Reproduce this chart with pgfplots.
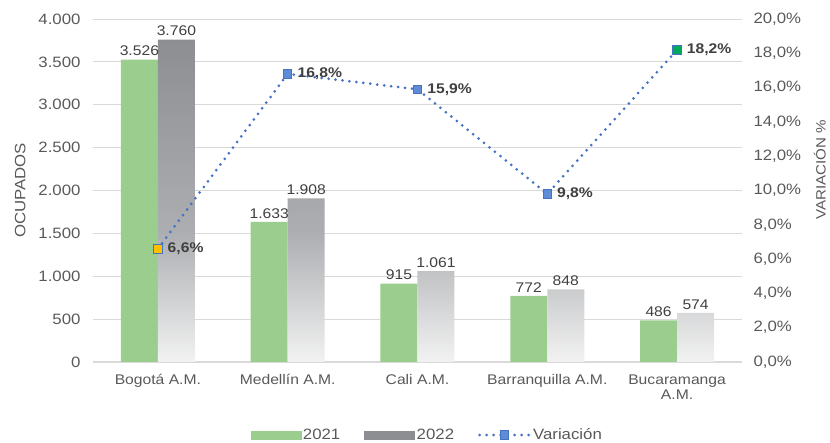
\documentclass[border=0pt]{standalone}
\usepackage{pgfplots}
\pgfplotsset{compat=1.18}
\usepackage{fontspec}
\setmainfont{Liberation Sans}[FakeStretch=1.12]
\definecolor{bargreen}{RGB}{155,206,142}
\definecolor{bargray}{RGB}{140,142,145}
\definecolor{barmid}{RGB}{172,174,177}
\definecolor{barlow}{RGB}{242,242,242}
\definecolor{lineblue}{RGB}{68,114,196}
\definecolor{mkblue}{RGB}{95,140,215}
\definecolor{mkorange}{RGB}{255,192,0}
\definecolor{mkgreen}{RGB}{0,170,90}
\definecolor{txtgray}{RGB}{89,89,89}
\definecolor{lblgray}{RGB}{64,64,64}
\definecolor{gridgray}{RGB}{217,217,217}
\pgfdeclareverticalshading{grayfade}{100bp}{color(0bp)=(barlow); color(25bp)=(barlow); color(45bp)=(barmid); color(75bp)=(bargray); color(100bp)=(bargray)}
\begin{document}
\begin{tikzpicture}[font=\fontsize{15}{17}\selectfont]
\path[use as bounding box] (-93pt,-81pt) rectangle (737pt,362pt);
\begin{axis}[
  scale only axis, width=649pt, height=343pt,
  at={(0,0)}, anchor=south west,
  xmin=-0.5, xmax=4.5, ymin=0, ymax=4000,
  xtick={0,1,2,3,4},
  xticklabels={Bogotá A.M., Medellín A.M., Cali A.M., Barranquilla A.M., {Bucaramanga\\A.M.}},
  xticklabel style={align=center, text=txtgray, font=\fontsize{14}{15}\selectfont, yshift=-9pt},
  ytick={0,500,...,4000},
  yticklabel style={text=txtgray, xshift=-9pt},
  /pgf/number format/.cd, 1000 sep={.}, /pgfplots/.cd,
  /pgf/number format/assume math mode=true,
  ymajorgrids, grid style={gridgray, line width=0.8pt},
  axis line style={draw=none},
  axis x line*=bottom, axis y line*=left,
  major tick length=0pt,
  ylabel={OCUPADOS}, ylabel style={text=txtgray, at={(ticklabel cs:0.5)}, yshift=6pt},
  ybar=0pt, bar width=37pt,
  nodes near coords,
  nodes near coords style={text=lblgray, font=\fontsize{14}{16}\selectfont, /pgf/number format/1000 sep={.}, /pgf/number format/assume math mode=true},
  clip=false,
]
\draw[gridgray, line width=1pt] (axis cs:-0.5,0) -- (axis cs:4.5,0);
\addplot[draw=none, fill=bargreen] coordinates {(0,3526) (1,1633) (2,915) (3,772) (4,486)};
\addplot[draw=none, shading=grayfade] coordinates {(0,3760) (1,1908) (2,1061) (3,848) (4,574)};
\end{axis}
\begin{axis}[
  scale only axis, width=649pt, height=343pt,
  at={(0,0)}, anchor=south west,
  xmin=-0.5, xmax=4.5, ymin=0, ymax=20,
  axis x line=none,
  axis y line*=right, axis line style={draw=none},
  major tick length=0pt,
  ytick={0,2,...,20},
  yticklabel={\pgfmathprintnumber[fixed, fixed zerofill, precision=1, use comma]{\tick}\%},
  yticklabel style={text=txtgray, xshift=8pt, /pgf/number format/assume math mode=true},
  ylabel={VARIACIÓN \%}, ylabel style={text=txtgray, font=\fontsize{13.5}{15}\selectfont, at={(ticklabel cs:0.56)}, yshift=-6pt},
  clip=false,
  legend style={draw=none, fill=none, at={(0.515,-0.213)}, anchor=center, legend columns=3,
    /tikz/every even column/.append style={column sep=22pt}, text=txtgray,
    font=\fontsize{15}{16}\selectfont},
  legend cell align=left,
]
\addlegendimage{legend image code/.code={\fill[bargreen] (0pt,-4pt) rectangle (50pt,4pt);}}
\addlegendentry{2021}
\addlegendimage{legend image code/.code={\fill[bargray] (0pt,-4pt) rectangle (50pt,4pt);}}
\addlegendentry{2022}
\addplot[lineblue, line width=3pt, line cap=round, dash pattern=on 0pt off 7pt,
  mark=square*, mark size=4.2pt, mark options={solid, fill=mkblue, draw=lineblue, line width=1pt},
  nodes near coords={\textbf{\pgfmathprintnumber[fixed, fixed zerofill, precision=1, use comma]{\pgfplotspointmeta}\%}},
  nodes near coords style={anchor=west, xshift=6pt, yshift=0pt, text=lblgray, font=\fontsize{14}{16}\selectfont, /pgf/number format/assume math mode=true},
  legend image code/.code={\draw[mark repeat=2, mark phase=2] plot coordinates {(0pt,0pt) (25pt,0pt) (50pt,0pt)};}
] coordinates {(0,6.6) (1,16.8) (2,15.9) (3,9.8) (4,18.2)};
\addlegendentry{Variación}
\addplot[only marks, mark=square*, mark size=4.2pt, mark options={fill=mkorange, draw=lineblue, line width=1pt}, forget plot] coordinates {(0,6.6)};
\addplot[only marks, mark=square*, mark size=4.2pt, mark options={fill=mkgreen, draw=lineblue, line width=1pt}, forget plot] coordinates {(4,18.2)};
\end{axis}
\end{tikzpicture}
\end{document}
